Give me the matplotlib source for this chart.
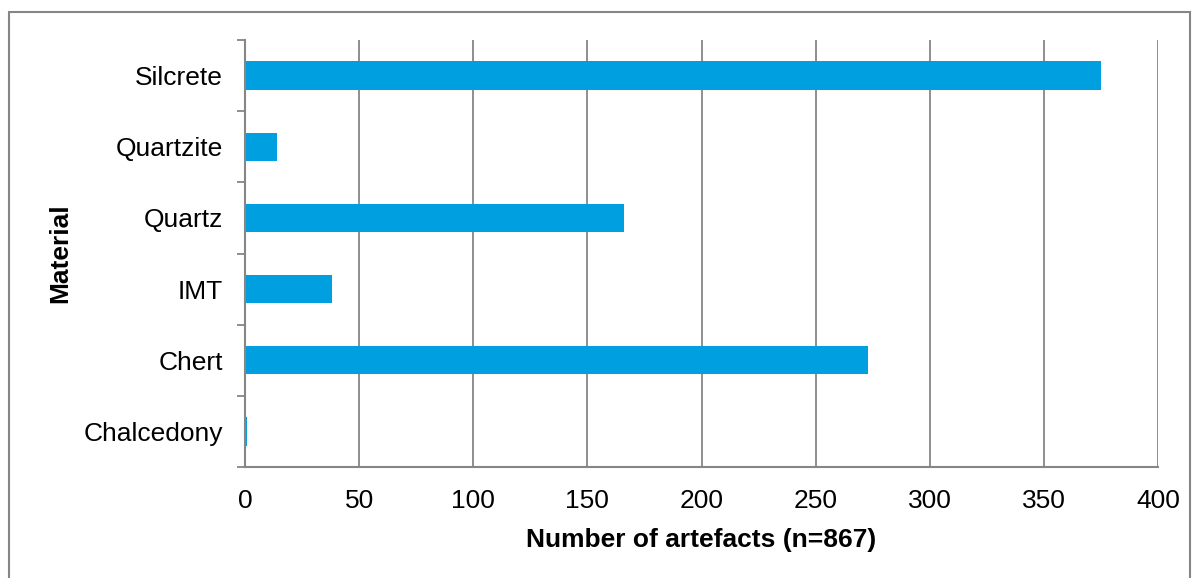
import matplotlib
matplotlib.use('Agg')
import matplotlib.pyplot as plt
from matplotlib.patches import Rectangle
import numpy as np

# data, bottom to top
materials = ['Chalcedony', 'Chert', 'IMT', 'Quartz', 'Quartzite', 'Silcrete']
counts = [1, 273, 38, 166, 14, 375]

plt.rcParams['font.family'] = ['Liberation Sans', 'DejaVu Sans']

W, H = 1197, 578
fig = plt.figure(figsize=(W / 100, H / 100), dpi=100)
ax = fig.add_axes([245 / W, 1 - 467 / H, (1158 - 245) / W, (467 - 40) / H])

gray = '#868686'
y = np.arange(len(materials))
ax.barh(y, counts, height=0.4, color='#009FE0', zorder=3)

ax.set_xlim(0, 400)
ax.set_ylim(-0.5, len(materials) - 0.5)
ax.set_xticks(np.arange(0, 401, 50))
ax.grid(axis='x', color=gray, linewidth=1.3, zorder=0)

# boundary ticks as major, labels on minor
ax.set_yticks(np.arange(-0.5, len(materials), 1.0))
ax.set_yticklabels([])
ax.set_yticks(y, minor=True)
ax.set_yticklabels(materials, minor=True)
ax.tick_params(axis='y', which='major', length=6, color=gray, width=1.3)
ax.tick_params(axis='y', which='minor', length=0, pad=16, labelsize=19)
ax.tick_params(axis='x', length=0, pad=16, labelsize=19)

for s in ['top', 'right']:
    ax.spines[s].set_visible(False)
for s in ['left', 'bottom']:
    ax.spines[s].set_color(gray)
    ax.spines[s].set_linewidth(1.5)
    ax.spines[s].set_zorder(4)

ax.set_xlabel('Number of artefacts (n=867)', fontsize=19, fontweight='bold', labelpad=11)
ax.set_ylabel('Material', fontsize=19, fontweight='bold', labelpad=8)

# outer chart frame
fig.patches.append(Rectangle((9 / W, -0.1), (1190 - 9) / W, 1.1 - 12 / H,
                             transform=fig.transFigure, fill=False,
                             edgecolor=gray, linewidth=1.5))

fig.savefig('out.png', dpi=100)
